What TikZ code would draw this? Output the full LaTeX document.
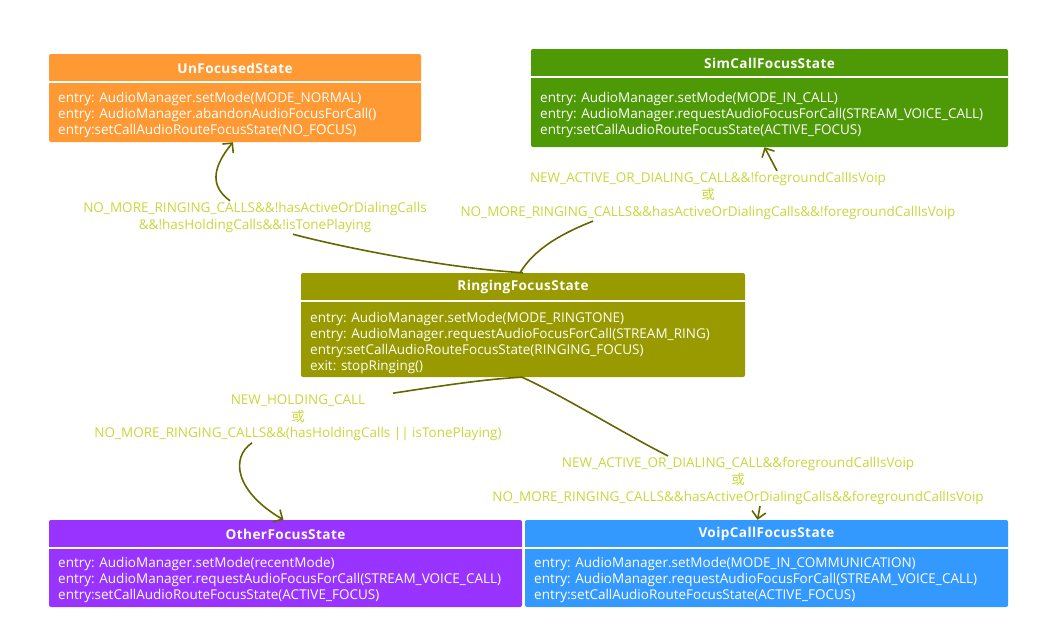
\documentclass[tikz,border=0pt]{standalone}
\usepackage{fontspec}
\setmainfont{Open Sans}
\newfontfamily\cjk{Noto Sans CJK SC}
\usetikzlibrary{arrows.meta}
\definecolor{cOrange}{HTML}{FF9933}
\definecolor{cGreen}{HTML}{4E9A06}
\definecolor{cOlive}{HTML}{999900}
\definecolor{cPurple}{HTML}{9933FF}
\definecolor{cBlue}{HTML}{3399FF}
\definecolor{cLabel}{RGB}{200,215,60}
\definecolor{cConn}{HTML}{666600}
\tikzset{
  statebox/.style={rectangle, rounded corners=2pt, draw=none, inner sep=0pt},
  sepline/.style={white, line width=2pt},
  titletext/.style={text=white, font=\fontsize{13.6}{15}\selectfont\bfseries\addfontfeature{LetterSpace=3}, inner sep=0pt},
  bodytext/.style={text=white, align=left, anchor=north west, inner sep=0pt, font=\fontsize{13.5}{16}\selectfont},
  labeltext/.style={text=cLabel, align=center, inner sep=1.5pt, font=\fontsize{13.5}{16.6}\selectfont},
  conn/.style={draw=cConn, line width=1.6pt},
  connarrow/.style={conn, -{Straight Barb[length=7pt,width=14pt,line width=1.6pt]}}
}
\begin{document}
\begin{tikzpicture}[x=1pt,y=-1pt]
\useasboundingbox (0,0) rectangle (1040,640);

% UnFocusedState
\node[statebox, fill=cOrange, minimum width=372pt, minimum height=88pt] (unf) at (235,98) {};
\draw[sepline] (49,82) -- (421,82);
\node[titletext] (unft) at (235,68) {UnFocusedState};
\node[bodytext] (unfb) at (58,92.5) {entry: AudioManager.setMode(MODE\_NORMAL)\\entry: AudioManager.abandonAudioFocusForCall()\\entry:setCallAudioRouteFocusState(NO\_FOCUS)};

% SimCallFocusState
\node[statebox, fill=cGreen, minimum width=477pt, minimum height=98pt] (sim) at (769.5,98) {};
\draw[sepline] (531,77) -- (1008,77);
\node[titletext] (simt) at (769.5,63) {SimCallFocusState};
\node[bodytext] (simb) at (540,92.5) {entry: AudioManager.setMode(MODE\_IN\_CALL)\\entry: AudioManager.requestAudioFocusForCall(STREAM\_VOICE\_CALL)\\entry:setCallAudioRouteFocusState(ACTIVE\_FOCUS)};

% RingingFocusState
\node[statebox, fill=cOlive, minimum width=444pt, minimum height=104pt] (ring) at (523,325) {};
\draw[sepline] (301,301) -- (745,301);
\node[titletext] (ringt) at (523,287) {RingingFocusState};
\node[bodytext] (ringb) at (310,312) {entry: AudioManager.setMode(MODE\_RINGTONE)\\entry: AudioManager.requestAudioFocusForCall(STREAM\_RING)\\entry:setCallAudioRouteFocusState(RINGING\_FOCUS)\\exit: stopRinging()};

% OtherFocusState
\node[statebox, fill=cPurple, minimum width=473pt, minimum height=87pt] (other) at (285.5,563.5) {};
\draw[sepline] (49,548) -- (522,548);
\node[titletext] (othert) at (285.5,534) {OtherFocusState};
\node[bodytext] (otherb) at (58,557.5) {entry: AudioManager.setMode(recentMode)\\entry: AudioManager.requestAudioFocusForCall(STREAM\_VOICE\_CALL)\\entry:setCallAudioRouteFocusState(ACTIVE\_FOCUS)};

% VoipCallFocusState
\node[statebox, fill=cBlue, minimum width=483pt, minimum height=87pt] (voip) at (766.5,563.5) {};
\draw[sepline] (525,548) -- (1008,548);
\node[titletext] (voipt) at (766.5,534) {VoipCallFocusState};
\node[bodytext] (voipb) at (534,557.5) {entry: AudioManager.setMode(MODE\_IN\_COMMUNICATION)\\entry: AudioManager.requestAudioFocusForCall(STREAM\_VOICE\_CALL)\\entry:setCallAudioRouteFocusState(ACTIVE\_FOCUS)};

% labels
\node[labeltext] (labA) at (255,217.5) {NO\_MORE\_RINGING\_CALLS\&\&!hasActiveOrDialingCalls\\\&\&!hasHoldingCalls\&\&!isTonePlaying};
\node[labeltext] (labB) at (708,196) {NEW\_ACTIVE\_OR\_DIALING\_CALL\&\&!foregroundCallIsVoip\\{\cjk 或}\\NO\_MORE\_RINGING\_CALLS\&\&hasActiveOrDialingCalls\&\&!foregroundCallIsVoip};
\node[labeltext] (labC) at (298,418) {NEW\_HOLDING\_CALL\\{\cjk 或}\\NO\_MORE\_RINGING\_CALLS\&\&(hasHoldingCalls || isTonePlaying)};
\node[labeltext] (labD) at (738,481) {NEW\_ACTIVE\_OR\_DIALING\_CALL\&\&foregroundCallIsVoip\\{\cjk 或}\\NO\_MORE\_RINGING\_CALLS\&\&hasActiveOrDialingCalls\&\&foregroundCallIsVoip};

% connectors
% Ringing -> UnFocused
\draw[conn] (ring.north) .. controls +(-80,-5) and +(45,12) .. ([xshift=38pt]labA.south);
\draw[connarrow] ([xshift=-25pt]labA.north) .. controls +(-18,-13) and +(-23,28) .. ([xshift=-2pt]unf.south);
% Ringing -> SimCall
\draw[conn] ([xshift=-3pt]ring.north) .. controls +(15,-25) and +(-30,12) .. ([xshift=-115pt]labB.south);
\draw[connarrow] ([xshift=69pt]labB.north) -- ([xshift=-5pt]sim.south);
% Ringing -> Other
\draw[conn] ([xshift=-1pt]ring.south) .. controls +(-40,2) and +(40,-6) .. ([xshift=95pt]labC.north);
\draw[connarrow] ([xshift=-46pt]labC.south) .. controls +(-22,15) and +(-48,-28) .. ([xshift=-2pt]other.north);
% Ringing -> Voip
\draw[conn] ([xshift=-1pt]ring.south) .. controls +(40,18) and +(-40,-20) .. ([xshift=-70pt]labD.north);
\draw[connarrow] ([xshift=22pt]labD.south) -- ([xshift=-9pt]voip.north);
\end{tikzpicture}
\end{document}
